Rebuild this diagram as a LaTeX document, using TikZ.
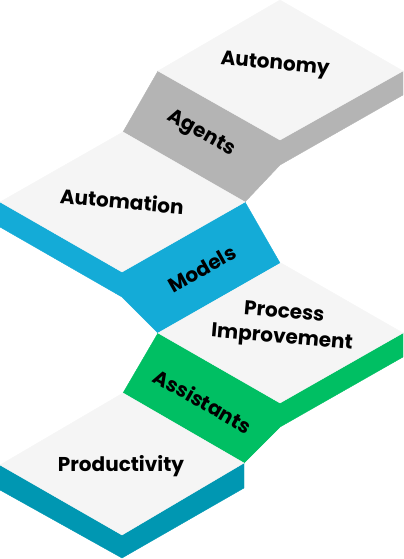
\documentclass[tikz,border=0pt]{standalone}
\usepackage{fontspec}
\setmainfont{Poppins}
\definecolor{topface}{HTML}{F5F5F5}
\definecolor{agentgray}{HTML}{B4B4B4}
\definecolor{modelblue}{HTML}{14ABD7}
\definecolor{assistgreen}{HTML}{00BF63}
\definecolor{prodteal}{HTML}{0097B2}

\begin{document}
\begin{tikzpicture}[
    x=0.75pt, y=-0.75pt,
    slab/.style={fill=topface, draw=topface, line width=0.3pt},
    riser/.style={fill=#1, draw=#1, line width=0.3pt},
    steplabel/.style={font=\bfseries\fontsize{15}{19}\selectfont,
                      align=center, inner sep=0pt}
  ]
  \useasboundingbox (0,0) rectangle (403,559);

  % risers and side faces
  \path[riser=agentgray] (123,132) -- (158,71) -- (280,140) -- (403,71)
    -- (403,95) -- (280,165) -- (245,202) -- cycle;
  \path[riser=modelblue] (0,202) -- (122,272) -- (245,202) -- (280,263)
    -- (158,333) -- (122,297) -- (0,227) -- cycle;
  \path[riser=assistgreen] (123,393) -- (158,333) -- (280,403) -- (403,333)
    -- (403,357) -- (280,427) -- (244,463) -- cycle;
  \path[riser=prodteal] (0,465) -- (122,535) -- (244,463) -- (244,488)
    -- (122,558) -- (0,490) -- cycle;

  % top faces
  \path[slab] (158,71) -- (280,0) -- (403,71) -- (280,140) -- cycle;
  \path[slab] (0,202) -- (123,132) -- (245,202) -- (122,272) -- cycle;
  \path[slab] (158,333) -- (281,263) -- (403,333) -- (280,403) -- cycle;
  \path[slab] (0,465) -- (123,393) -- (244,463) -- (122,535) -- cycle;

  \node[steplabel, rotate=-5] (autonomy) at (275,65) {Autonomy};
  \node[steplabel, rotate=-29.5] (agents) at (201,134) {Agents};
  \node[steplabel, rotate=-5] (automation) at (122,201) {Automation};
  \node[steplabel, rotate=29.5] (models) at (202,269) {Models};
  \node[steplabel, rotate=-5] (process) at (283,326) {Process\\Improvement};
  \node[steplabel, rotate=-29.5] (assistants) at (203,401) {Assistants};
  \node[steplabel] (productivity) at (121,466) {Productivity};
\end{tikzpicture}
\end{document}
